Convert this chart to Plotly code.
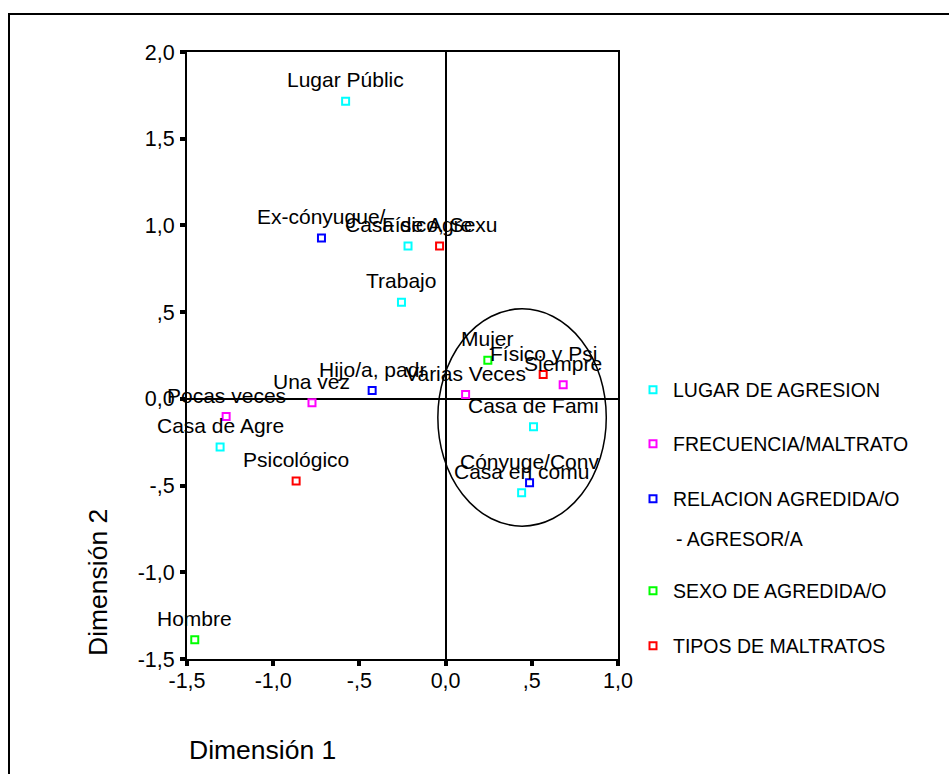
import plotly.graph_objects as go

# ---------------- data ----------------
lugar_labels = ["Lugar Públic", "Casa de Agre", "Trabajo", "Casa de Fami", "Casa en comu", "Casa de Agre"]
lugar_x = [-0.58, -0.218, -0.256, 0.51, 0.441, -1.308]
lugar_y = [1.716, 0.882, 0.557, -0.161, -0.542, -0.277]

frec_labels = ["Una vez", "Pocas veces", "Varias Veces", "Siempre"]
frec_x = [-0.775, -1.273, 0.116, 0.682]
frec_y = [-0.023, -0.102, 0.025, 0.081]

rel_labels = ["Ex-cónyugue/", "Hijo/a, padr", "Cónyuge/Conv"]
rel_x = [-0.72, -0.426, 0.487]
rel_y = [0.928, 0.048, -0.484]

sexo_labels = ["Mujer", "Hombre"]
sexo_x = [0.245, -1.455]
sexo_y = [0.223, -1.389]

tipos_labels = ["Físico, Sexu", "Físico y Psi", "Psicológico"]
tipos_x = [-0.035, 0.566, -0.867]
tipos_y = [0.882, 0.14, -0.474]

series_names = ["LUGAR DE AGRESION", "FRECUENCIA/MALTRATO", "RELACION AGREDIDA/O",
                "SEXO DE AGREDIDA/O", "TIPOS DE MALTRATOS"]
series_colors = ["#00FFFF", "#FF00FF", "#0000FF", "#00FF00", "#FF0000"]

x_tickvals = [-1.5, -1.0, -0.5, 0.0, 0.5, 1.0]
x_ticktext = ["-1,5", "-1,0", "-,5", "0,0", ",5", "1,0"]
y_tickvals = [-1.5, -1.0, -0.5, 0.0, 0.5, 1.0, 1.5, 2.0]
y_ticktext = ["-1,5", "-1,0", "-,5", "0,0", ",5", "1,0", "1,5", "2,0"]

# ellipse drawn around the right-hand cluster (data units)
ellipse_x = [-0.045, 0.932]
ellipse_y = [-0.734, 0.519]

# ---------------- layout helpers ----------------
W, H = 949, 774
PL, PR, PT, PB = 187, 618, 52, 659
FONT = "Arial, Liberation Sans, sans-serif"


def px_x(px):
    return (px - PL) / (PR - PL)


def px_y(py):
    return (PB - py) / (PB - PT)


series = [
    (lugar_labels, lugar_x, lugar_y),
    (frec_labels, frec_x, frec_y),
    (rel_labels, rel_x, rel_y),
    (sexo_labels, sexo_x, sexo_y),
    (tipos_labels, tipos_x, tipos_y),
]
legend_ids = ["legend", "legend2", "legend3", "legend4", "legend5"]
legend_centers = [390, 444, 499, 591, 646]

fig = go.Figure()
annotations = []
for i, ((labels, xs, ys), name, color) in enumerate(zip(series, series_names, series_colors)):
    fig.add_trace(go.Scatter(
        x=xs, y=ys, mode="markers", name=name,
        marker=dict(symbol="square-open", size=7, color=color,
                    line=dict(width=2, color=color)),
        legend=legend_ids[i], hoverinfo="text", text=labels,
    ))
    for lab, xv, yv in zip(labels, xs, ys):
        annotations.append(dict(
            x=xv, y=yv, xref="x", yref="y", text=lab, showarrow=False,
            xanchor="center", yanchor="middle", yshift=21.5,
            font=dict(family=FONT, size=21, color="black"),
        ))

# second line of the RELACION legend entry
annotations.append(dict(
    x=px_x(674), y=px_y(539), xref="paper", yref="paper", text="- AGRESOR/A",
    showarrow=False, xanchor="left", yanchor="middle",
    font=dict(family=FONT, size=19.5, color="black"),
))
# axis titles
annotations.append(dict(
    x=px_x(187), y=px_y(750), xref="paper", yref="paper", text="Dimensión 1",
    showarrow=False, xanchor="left", yanchor="middle",
    font=dict(family=FONT, size=26.5, color="black"),
))
annotations.append(dict(
    x=px_x(98), y=px_y(583), xref="paper", yref="paper", text="Dimensión 2",
    showarrow=False, xanchor="center", yanchor="middle", textangle=-90,
    font=dict(family=FONT, size=26.5, color="black"),
))

legend_common = dict(
    xanchor="left", yanchor="middle", bgcolor="rgba(0,0,0,0)",
    font=dict(family=FONT, size=19.5, color="black"),
    borderwidth=0,
)
legend_layout = {}
for lid, cy in zip(legend_ids, legend_centers):
    legend_layout[lid] = dict(x=px_x(633), y=px_y(cy), **legend_common)

shapes = [
    # ellipse
    dict(type="circle", xref="x", yref="y",
         x0=ellipse_x[0], x1=ellipse_x[1], y0=ellipse_y[0], y1=ellipse_y[1],
         line=dict(color="black", width=1.5), layer="above"),
    # outer frame of the chart (extends past right/bottom edges)
    dict(type="rect", xref="paper", yref="paper",
         x0=px_x(9), x1=px_x(W + 20), y0=px_y(H + 20), y1=px_y(14),
         line=dict(color="black", width=2), fillcolor="rgba(0,0,0,0)"),
]

axis_common = dict(
    showgrid=False, zeroline=True, zerolinecolor="black", zerolinewidth=2,
    showline=True, linecolor="black", linewidth=2, mirror=True,
    ticks="outside", ticklen=5, tickwidth=4, tickcolor="black",
    tickfont=dict(family=FONT, size=21.5, color="black"),
)

fig.update_layout(
    width=W, height=H,
    margin=dict(l=PL, r=W - PR, t=PT, b=H - PB, pad=0),
    paper_bgcolor="white", plot_bgcolor="white",
    showlegend=True,
    xaxis=dict(range=[-1.5, 1.0], tickvals=x_tickvals, ticktext=x_ticktext,
               ticklabelstandoff=-4, **axis_common),
    yaxis=dict(range=[-1.5, 2.0], tickvals=y_tickvals, ticktext=y_ticktext,
               ticklabelstandoff=1, **axis_common),
    annotations=annotations,
    shapes=shapes,
    **legend_layout,
)

fig.write_html("out.html", config={"displayModeBar": False},
               post_script="document.body.style.margin='0';document.body.style.overflow='hidden';")
